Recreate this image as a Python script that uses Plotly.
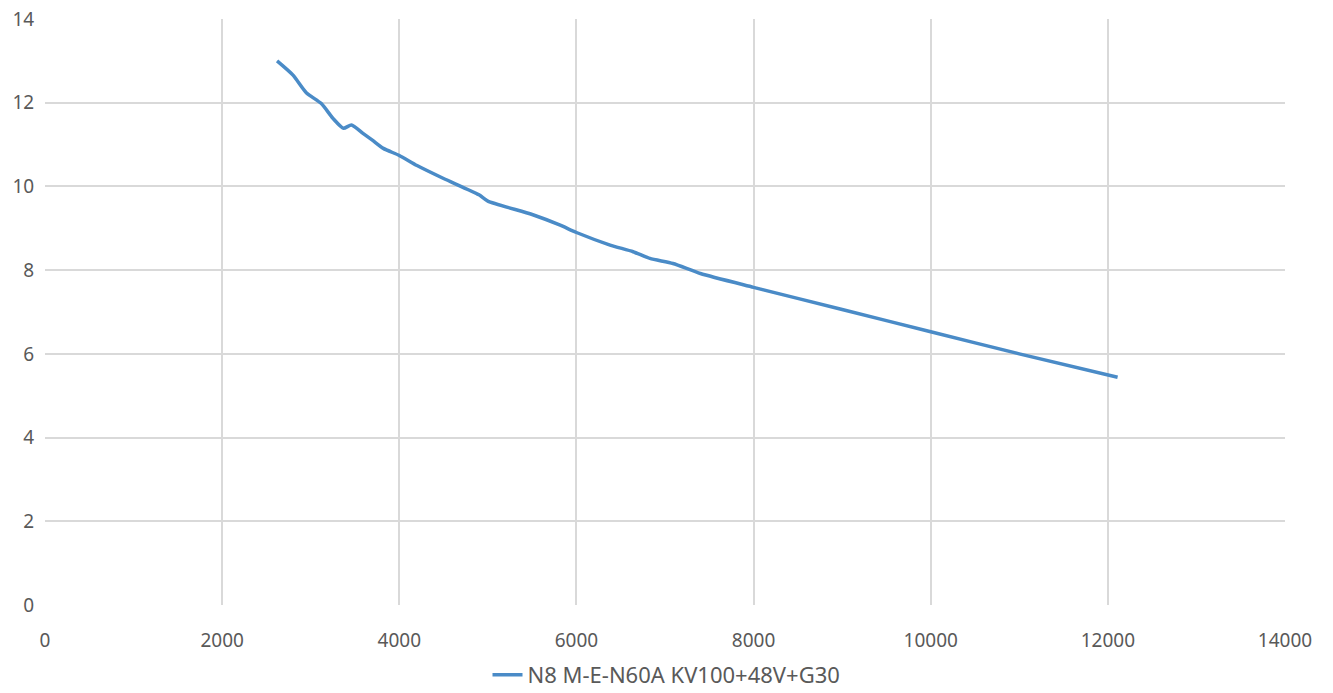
import plotly.graph_objects as go

speed = [2620, 2800, 2950, 3120, 3250, 3370, 3460, 3590, 3700, 3820, 4000, 4200, 4500, 4900,
         5000, 5500, 5810, 6000, 6380, 6640, 6830, 7090, 7400, 8000, 9000, 10000, 11000, 12110]
value = [13.0, 12.66, 12.24, 11.98, 11.63, 11.39, 11.47, 11.27, 11.1, 10.91, 10.74, 10.5, 10.19, 9.8,
         9.65, 9.33, 9.08, 8.9, 8.6, 8.44, 8.28, 8.16, 7.92, 7.59, 7.06, 6.53, 6.0, 5.44]
x_ticks = [0, 2000, 4000, 6000, 8000, 10000, 12000, 14000]
y_ticks = [0, 2, 4, 6, 8, 10, 12, 14]
series_name = "N8 M-E-N60A KV100+48V+G30"

fig = go.Figure()
fig.add_trace(go.Scatter(x=speed, y=value, mode="lines", name=series_name,
                         line=dict(color="#4a8bc7", width=3.5, shape="spline", smoothing=0.6)))

axis_common = dict(showgrid=True, gridcolor="#d9d9d9", gridwidth=1.5, zeroline=False,
                   showline=False, automargin=False, tickcolor="rgba(0,0,0,0)",
                   ticks="outside", tickfont=dict(size=19, color="#595959"))
fig.update_layout(
    width=1333, height=693,
    margin=dict(l=45, r=48, t=19, b=88),
    paper_bgcolor="white", plot_bgcolor="white",
    font=dict(family="Noto Sans, sans-serif", color="#595959"),
    xaxis=dict(range=[0, 14000], tickmode="array", tickvals=x_ticks,
               ticktext=[str(v) for v in x_ticks], ticklen=18, **axis_common),
    yaxis=dict(range=[0, 14.001], tickmode="array", tickvals=y_ticks,
               ticktext=[str(v) for v in y_ticks], ticklen=6, **axis_common),
    showlegend=True,
    legend=dict(orientation="h", x=0.5, xanchor="center", xref="container",
                y=0.026, yanchor="middle", yref="container",
                font=dict(size=22, color="#595959")),
)
fig.write_html("out.html", config={"displayModeBar": False},
               post_script="document.body.style.margin='0';document.body.style.overflow='hidden';")
